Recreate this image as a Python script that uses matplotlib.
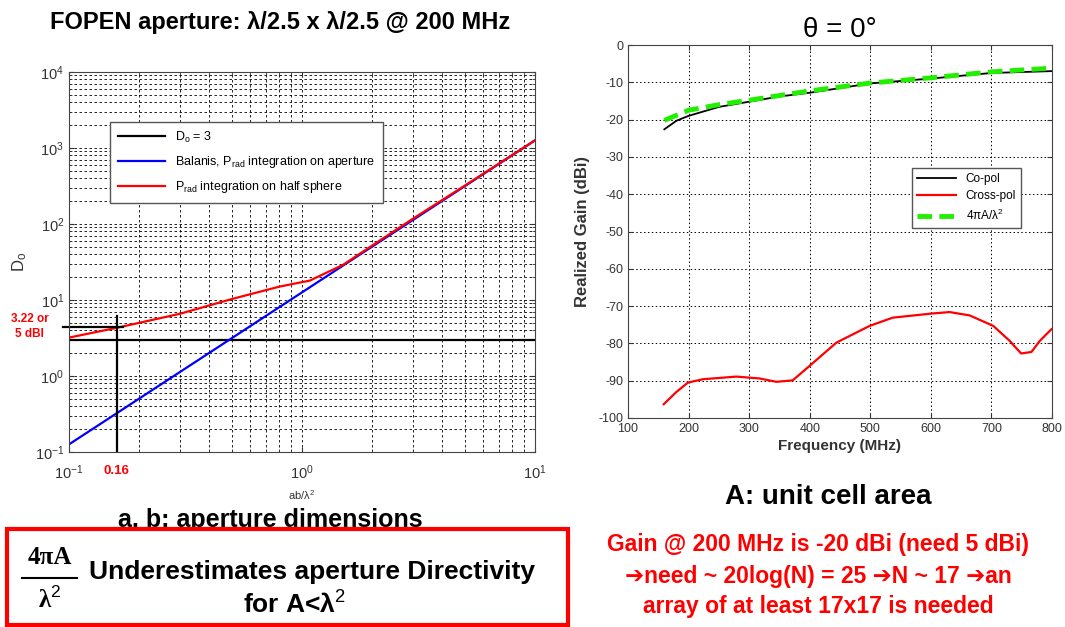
import numpy as np
import matplotlib
matplotlib.use("Agg")
import matplotlib.pyplot as plt
from matplotlib.patches import Rectangle
from matplotlib.lines import Line2D

plt.rcParams['font.family'] = ['Liberation Sans', 'DejaVu Sans']
plt.rcParams['mathtext.fontset'] = 'custom'
plt.rcParams['mathtext.rm'] = 'Liberation Sans'
plt.rcParams['mathtext.it'] = 'Liberation Sans'
plt.rcParams['mathtext.bf'] = 'Liberation Sans:bold'
plt.rcParams['axes.unicode_minus'] = False

# left panel: directivity vs ab/lambda^2
ab_blue = [0.1, 1.0, 10.0]
d_blue = [0.126, 12.6, 1260]
ab_red = [0.1, 0.16, 0.3, 0.5, 0.8, 1.08, 1.5, 2.0, 3.0, 5.0, 10.0]
d_red = [3.2, 4.3, 6.6, 10.3, 15.0, 18.0, 29.0, 52.0, 118.0, 320.0, 1260]
d0_level = 3
ab_mark = 0.16
d_mark = 4.4
d_mark_top = 6.2

# right panel: realized gain vs frequency
f_co = [160, 180, 200, 250, 300, 350, 400, 500, 600, 700, 800]
g_co = [-22.6, -20.3, -19.0, -16.6, -15.2, -13.8, -12.8, -10.3, -9.0, -7.5, -7.0]
f_ap = [160, 200, 250, 300, 400, 500, 600, 700, 800]
g_ap = [-20.2, -17.5, -16.0, -14.8, -12.3, -10.2, -8.8, -7.2, -6.2]
f_x = [159, 180, 199, 224, 279, 317, 345, 372, 400, 444, 499, 537, 601, 631, 664,
       703, 730, 749, 766, 780, 799]
g_x = [-96.3, -93.0, -90.5, -89.6, -88.9, -89.4, -90.3, -89.9, -86.0, -79.8, -75.3,
       -73.1, -72.0, -71.6, -72.5, -75.3, -79.3, -82.7, -82.3, -79.3, -76.2]

W, H = 1065, 627
fig = plt.figure(figsize=(W / 100, H / 100), dpi=100)


def fx(px):
    return px / W


def fy(py):
    return 1 - py / H


# ---- left axes
ax1 = fig.add_axes([fx(69), fy(452), (535 - 69) / W, (452 - 72) / H])
ax1.set_xscale('log')
ax1.set_yscale('log')
ax1.set_xlim(0.1, 10)
ax1.set_ylim(0.1, 1e4)
ax1.grid(True, which='both', color='black', linestyle=(0, (3, 3)), linewidth=0.6)
ax1.axhline(d0_level, color='black', lw=1.6, label=r'D$_\mathrm{o}$ = 3')
ax1.plot(ab_blue, d_blue, color='blue', lw=1.6,
         label=r'Balanis, P$_\mathrm{rad}$ integration on aperture')
ax1.plot(ab_red, d_red, color='red', lw=1.6,
         label=r'P$_\mathrm{rad}$ integration on half sphere')
ax1.plot([ab_mark, ab_mark], [0.1, d_mark_top], color='black', lw=1.6)
ax1.plot([0.094, 0.17], [d_mark, d_mark], color='black', lw=1.6, clip_on=False)
ax1.tick_params(which='both', direction='in', labelsize=10.5, colors='#333333',
                top=True, right=True)
ax1.tick_params(axis='x', pad=8)
ax1.set_xlabel(r'ab/λ$^2$', fontsize=8, color='#333333', labelpad=5)
ax1.set_ylabel(r'D$_\mathrm{o}$', fontsize=12, color='#333333', labelpad=4)
for s in ax1.spines.values():
    s.set_color('#444444')
ax1.text(ab_mark, -0.035, '0.16', transform=ax1.get_xaxis_transform(),
         color='red', fontsize=9.5, fontweight='bold', ha='center', va='top')
ax1.text(-0.085, 0.33, '3.22 or\n5 dBI', transform=ax1.transAxes, color='red',
         fontsize=8.5, fontweight='bold', ha='center', va='center', linespacing=1.4)
leg1 = ax1.legend(loc='upper left', bbox_to_anchor=(0.075, 0.885), fontsize=9,
                  fancybox=False, edgecolor='#555555', framealpha=1,
                  handlelength=3.8, borderpad=0.6, labelspacing=0.75)
leg1.get_frame().set_linewidth(1.0)

fig.text(fx(280), fy(22), 'FOPEN aperture: λ/2.5 x λ/2.5 @ 200 MHz', fontsize=17,
         fontweight='bold', ha='center', va='center')

# ---- right axes
ax2 = fig.add_axes([fx(628), fy(418), (1052 - 628) / W, (418 - 45) / H])
ax2.set_xlim(100, 800)
ax2.set_ylim(-100, 0)
ax2.set_xticks(np.arange(100, 801, 100))
ax2.set_yticks(np.arange(-100, 1, 10))
ax2.grid(True, color='black', linestyle=(0, (1.5, 2.5)), linewidth=0.7)
ax2.plot(f_co, g_co, color='black', lw=1.3, label='Co-pol')
ax2.plot(f_x, g_x, color='red', lw=1.6, label='Cross-pol')
ax2.plot(f_ap, g_ap, color='#22ee00', lw=3.5, linestyle=(0, (3, 1.5)),
         label=r'4πA/λ$^2$')
ax2.tick_params(direction='in', labelsize=9, colors='#333333', top=True, right=True)
ax2.set_xlabel('Frequency (MHz)', fontsize=11, color='#333333', fontweight='bold',
               labelpad=3)
ax2.set_ylabel('Realized Gain (dBi)', fontsize=12, color='#333333', fontweight='bold',
               labelpad=6)
for s in ax2.spines.values():
    s.set_color('#444444')
ax2.set_title('θ = 0°', fontsize=20, pad=6)
leg2 = ax2.legend(loc='upper right', bbox_to_anchor=(0.94, 0.685), fontsize=8.5,
                  fancybox=False, edgecolor='#555555', framealpha=1,
                  handlelength=3.3, borderpad=0.4, labelspacing=0.45)

fig.text(fx(828), fy(497), 'A: unit cell area', fontsize=20, fontweight='bold',
         ha='center', va='center')
note_lines = ['Gain @ 200 MHz is -20 dBi (need 5 dBi)',
              '➔need ~ 20log(N) = 25 ➔N ~ 17 ➔an',
              'array of at least 17x17 is needed']
for yy, line in zip([545, 577, 607], note_lines):
    fig.text(fx(818), fy(yy), line, fontsize=16.5, fontweight='bold', color='red',
             ha='center', va='center')

# ---- bottom-left boxed note
fig.text(fx(270), fy(520), 'a, b: aperture dimensions', fontsize=18,
         fontweight='bold', ha='center', va='center', zorder=2)
box = Rectangle((fx(7), fy(625)), (568 - 7) / W, (625 - 529) / H,
                transform=fig.transFigure, facecolor='white', edgecolor='red',
                linewidth=3, zorder=5)
fig.patches.append(box)
fig.text(fx(50), fy(557), '4πA', family='Liberation Serif', fontsize=18,
         fontweight='bold', ha='center', va='center', zorder=6)
fig.lines.append(Line2D([fx(22), fx(77)], [fy(578), fy(578)], color='black', lw=1.5,
                        transform=fig.transFigure, zorder=6))
fig.text(fx(50), fy(600), r'λ$^2$', family='Liberation Serif', fontsize=18,
         fontweight='bold', ha='center', va='center', zorder=6)
fig.text(fx(312), fy(572), 'Underestimates aperture Directivity', fontsize=19,
         fontweight='bold', ha='center', va='center', zorder=6)
fig.text(fx(295), fy(605), r'for A<λ$^2$', fontsize=19,
         fontweight='bold', ha='center', va='center', zorder=6)

fig.savefig('out.png', dpi=100)
